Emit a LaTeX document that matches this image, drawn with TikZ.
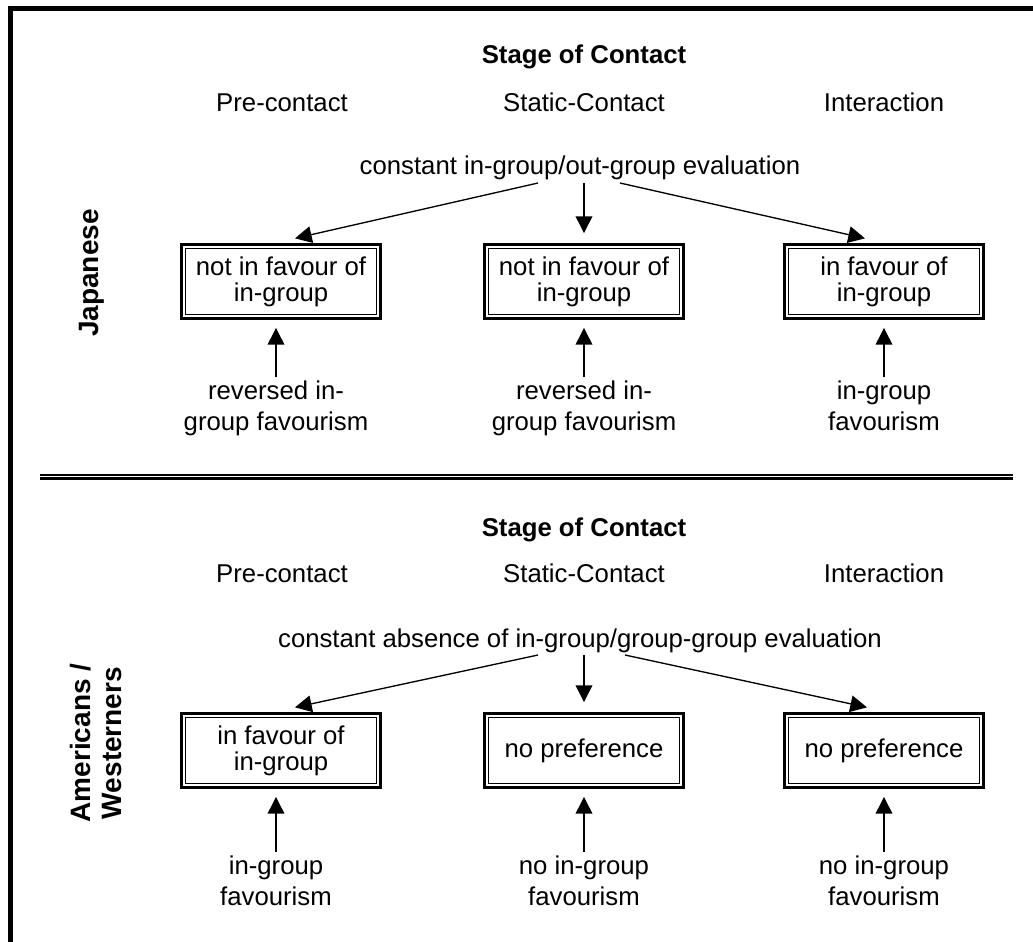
\documentclass[tikz,border=0pt]{standalone}
\usepackage{fontspec}
\setmainfont{Liberation Sans}
\usetikzlibrary{arrows.meta,calc}
\begin{document}
\begin{tikzpicture}[x=0.75pt,y=-0.75pt,
  txt/.style={font=\fontsize{19.3pt}{23.25pt}\selectfont, inner sep=0pt},
  hdr/.style={font=\bfseries\fontsize{19.3pt}{23pt}\selectfont, inner sep=0pt},
  side/.style={font=\bfseries\fontsize{21pt}{23pt}\selectfont, inner sep=0pt, rotate=90, align=center},
  lab/.style={txt, align=center, outer sep=3pt, anchor=north},
  evaltext/.style={txt, outer sep=2pt, anchor=base},
  stagebox/.style={draw, line width=2pt, outer sep=0pt, inner sep=0pt,
    minimum width=149.5pt, minimum height=55.7pt, align=center,
    font=\fontsize{19.3pt}{19.5pt}\selectfont},
  arr/.style={-{Triangle[length=12.5pt,width=12.5pt]}, line width=1pt},
]
\useasboundingbox (0,0) rectangle (1033,942);

% outer frame: top and left edges only
\draw[line width=3.75pt, line join=miter] (10.5,942) -- (10.5,8.5) -- (1033,8.5);

% double rule between the two panels
\draw[line width=2pt, double distance=0.75pt] (40,476.7) -- (1013,476.7);

% ---------------- upper panel: Japanese ----------------
\node[side] (jp) at (92,273) {Japanese};
\node[hdr, anchor=base] (s1) at (584,64) {Stage of Contact};
\node[txt, anchor=base] (c11) at (282,112) {Pre-contact};
\node[txt, anchor=base] (c12) at (584,112) {Static-Contact};
\node[txt, anchor=base] (c13) at (884,112) {Interaction};
\node[evaltext] (e1) at (580,175) {constant in-group/out-group evaluation};

\node[stagebox] (b1) at (281,281.5) {not in favour of\\in-group};
\node[stagebox] (b2) at (584,281.5) {not in favour of\\in-group};
\node[stagebox] (b3) at (884,281.5) {in favour of\\in-group};

\node[lab] (l1) at (276,377) {reversed in-\\group favourism};
\node[lab] (l2) at (584,377) {reversed in-\\group favourism};
\node[lab] (l3) at (884,377) {in-group\\favourism};

\draw[arr] ($(e1.south)+(-42,0)$) -- ($(b1.north)+(14,-6)$);
\draw[arr, shorten >=8.5pt] (e1.south -| b2.north) -- (b2.north);
\draw[arr] ($(e1.south)+(40,0)$) -- ($(b3.north)+(-19,-6)$);
\foreach \i in {1,2,3} \draw[arr, shorten >=7pt] (l\i.north) -- (l\i.north |- b\i.south);

% ---------------- lower panel: Americans / Westerners ----------------
\node[side] (am) at (96,743) {Americans /\\Westerners};
\node[hdr, anchor=base] (s2) at (584,536) {Stage of Contact};
\node[txt, anchor=base] (c21) at (282,582) {Pre-contact};
\node[txt, anchor=base] (c22) at (584,582) {Static-Contact};
\node[txt, anchor=base] (c23) at (884,582) {Interaction};
\node[evaltext] (e2) at (580,647) {constant absence of in-group/group-group evaluation};

\node[stagebox] (b4) at (281,750.5) {in favour of\\in-group};
\node[stagebox] (b5) at (584,750.5) {no preference};
\node[stagebox] (b6) at (884,750.5) {no preference};

\node[lab] (l4) at (276,852) {in-group\\favourism};
\node[lab] (l5) at (584,852) {no in-group\\favourism};
\node[lab] (l6) at (884,852) {no in-group\\favourism};

\draw[arr] ($(e2.south)+(-42,0)$) -- ($(b4.north)+(14,-6)$);
\draw[arr, shorten >=8.5pt] (e2.south -| b5.north) -- (b5.north);
\draw[arr] ($(e2.south)+(45,0)$) -- ($(b6.north)+(-17,-6)$);
\foreach \i in {4,5,6} \draw[arr, shorten >=7pt] (l\i.north) -- (l\i.north |- b\i.south);

% inner line of every double-framed box
\foreach \b in {b1,b2,b3,b4,b5,b6}
  \draw[line width=1pt] ($(\b.north west)+(4,4)$) rectangle ($(\b.south east)+(-4,-4)$);
\end{tikzpicture}
\end{document}
